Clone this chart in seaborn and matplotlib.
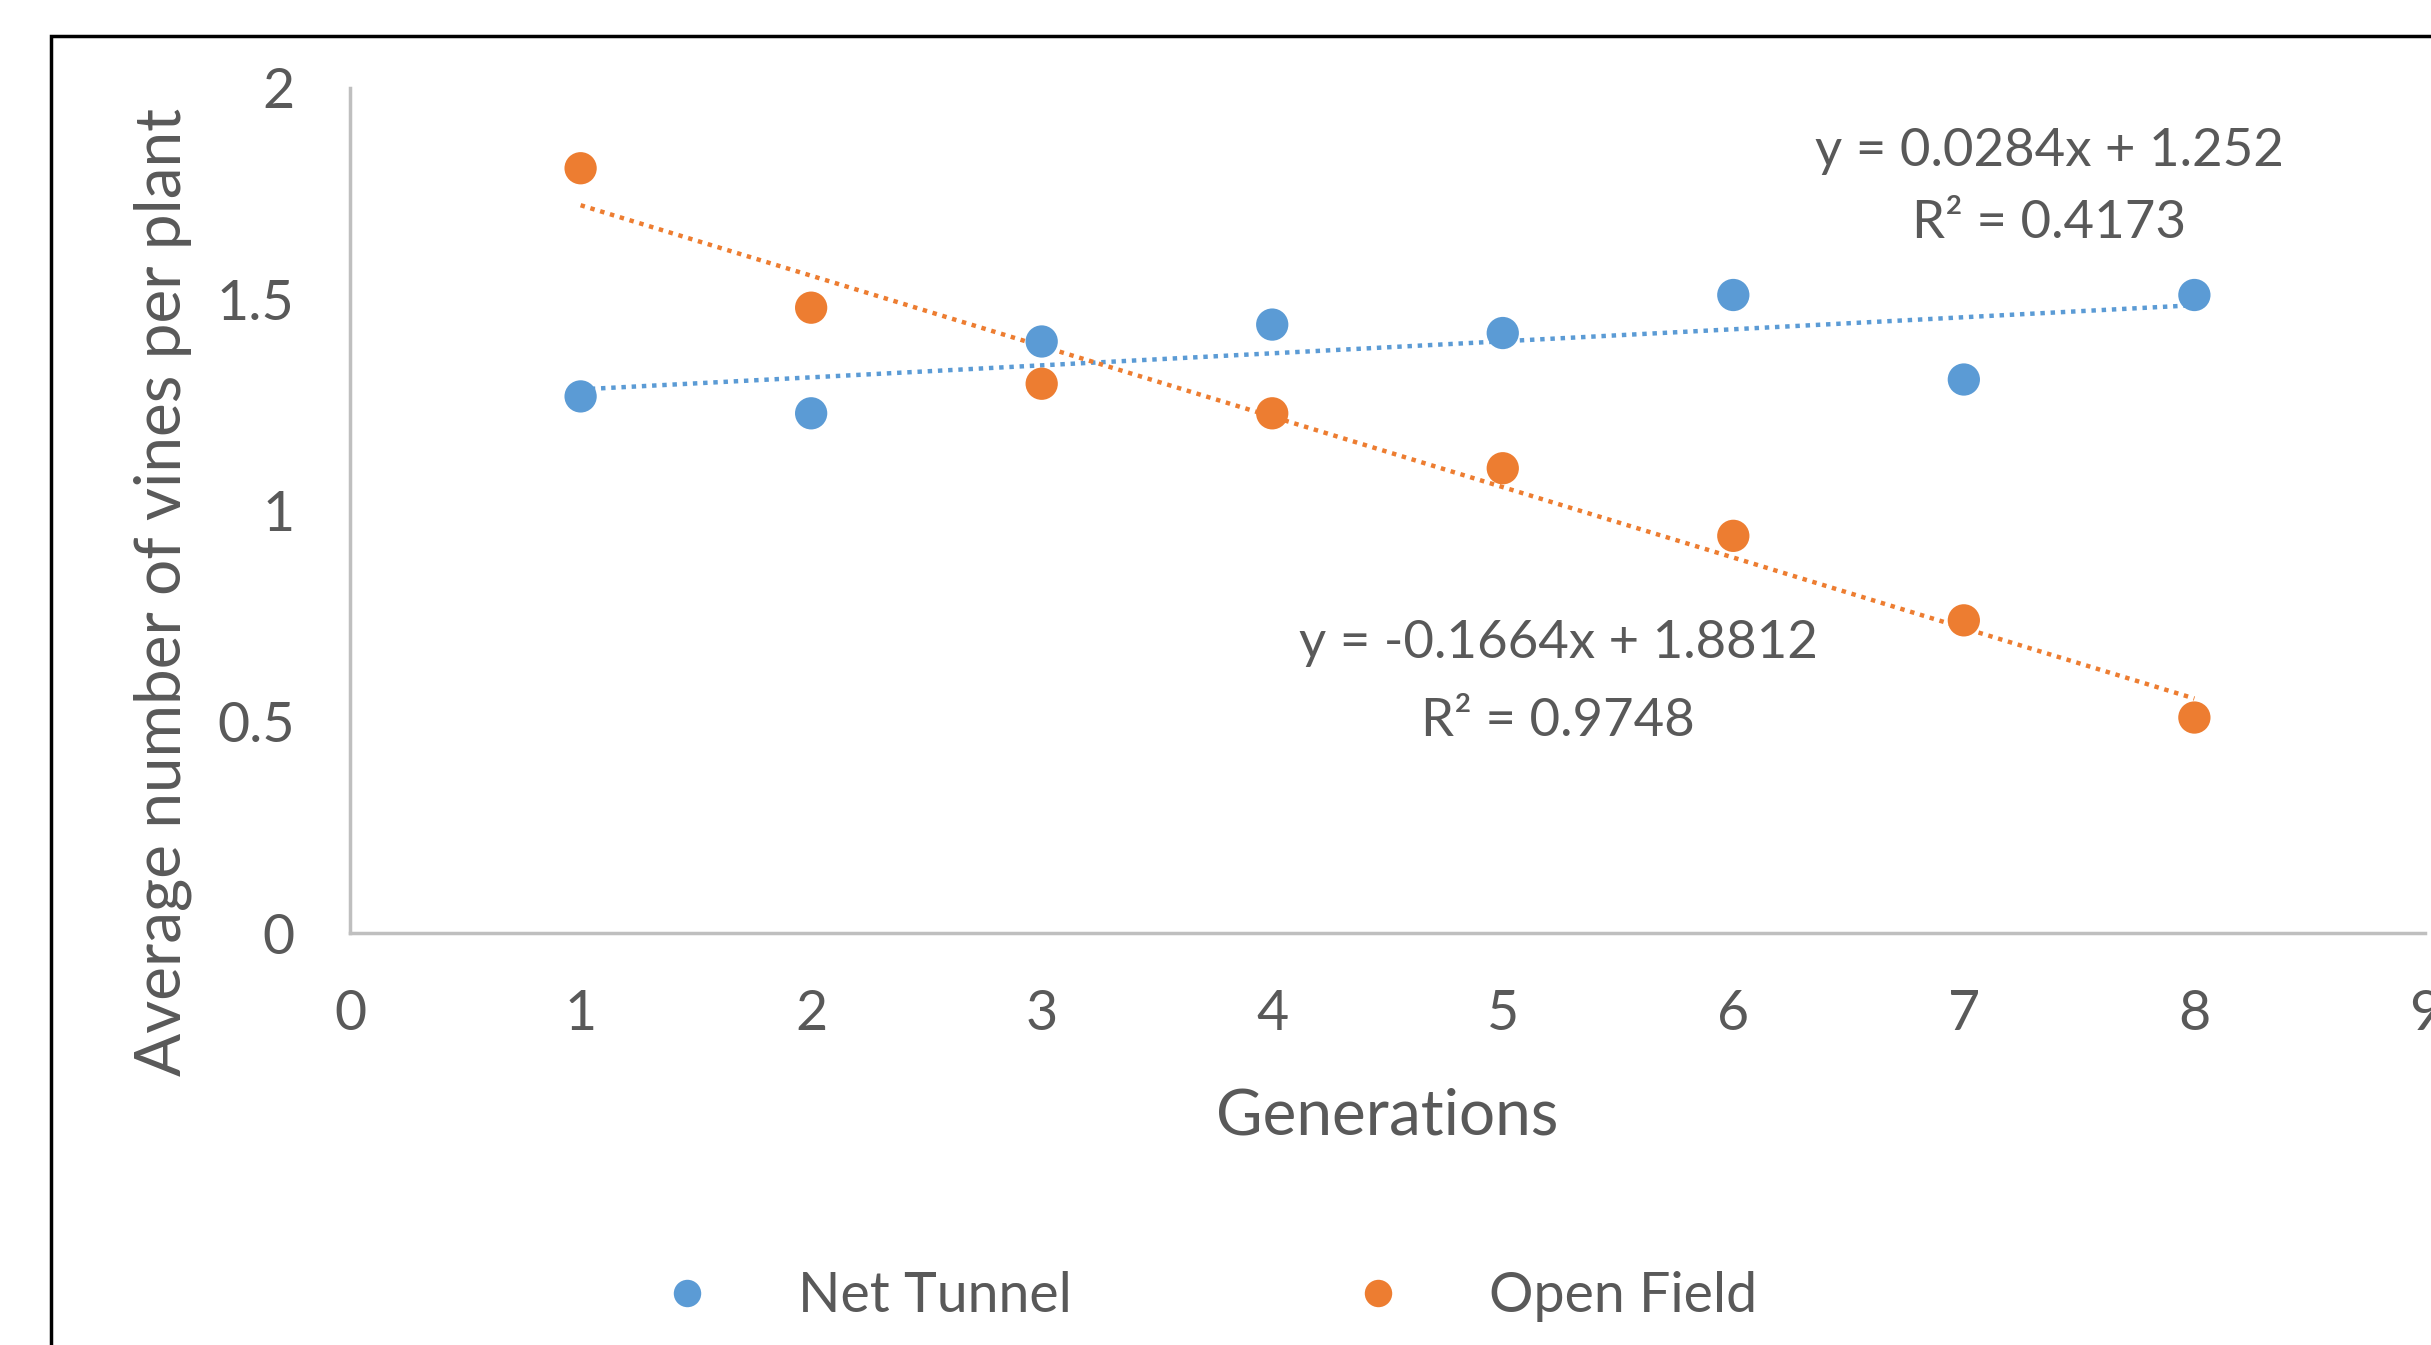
import pandas as pd
import seaborn as sns
import matplotlib.pyplot as plt
from matplotlib.patches import Rectangle

generations = [1, 2, 3, 4, 5, 6, 7, 8]
net_tunnel = [1.27, 1.23, 1.40, 1.44, 1.42, 1.51, 1.31, 1.51]
open_field = [1.81, 1.48, 1.30, 1.23, 1.10, 0.94, 0.74, 0.51]
series_names = ["Net Tunnel", "Open Field"]
colors = {"Net Tunnel": "#5B9BD5", "Open Field": "#ED7D31"}

eq_net = ["y = 0.0284x + 1.252", "R² = 0.4173"]
eq_open = ["y = -0.1664x + 1.8812", "R² = 0.9748"]

sns.set_theme(style="white")
plt.rcParams["font.family"] = ["Lato", "DejaVu Sans"]
GREY = "#595959"

df = pd.DataFrame({
    "Generations": generations * 2,
    "value": net_tunnel + open_field,
    "series": [series_names[0]] * 8 + [series_names[1]] * 8,
})

fig = plt.figure(figsize=(24.31, 13.45), dpi=100)
ax = fig.add_axes([0.144, 0.3063, 0.8535, 0.6283])

for name in series_names:
    sns.regplot(data=df[df.series == name], x="Generations", y="value", ax=ax,
                scatter=False, ci=None, color=colors[name],
                line_kws={"linestyle": (0, (1, 1.3)), "linewidth": 3.2})

sns.scatterplot(data=df, x="Generations", y="value", hue="series", palette=colors,
                s=540, edgecolor="none", ax=ax, zorder=3)

ax.set_xlim(0, 9)
ax.set_ylim(0, 2)
ax.set_xticks(range(0, 10))
ax.set_yticks([0, 0.5, 1, 1.5, 2])
ax.set_yticklabels(["0", "0.5", "1", "1.5", "2"])
ax.tick_params(axis="both", length=0, labelsize=40, labelcolor=GREY)
ax.tick_params(axis="y", pad=40)
ax.tick_params(axis="x", pad=40)

for s in ["top", "right"]:
    ax.spines[s].set_visible(False)
for s in ["left", "bottom"]:
    ax.spines[s].set_color("#BFBFBF")
    ax.spines[s].set_linewidth(2.5)

ax.set_xlabel("Generations", fontsize=46, color=GREY)
ax.set_ylabel("Average number of vines per plant", fontsize=46, color=GREY)
ax.xaxis.set_label_coords(0.5, -0.183)
ax.yaxis.set_label_coords(-0.076, 0.404)

ax.text(7.37, 1.85, eq_net[0], ha="center", va="center", fontsize=38, color=GREY)
ax.text(7.37, 1.68, eq_net[1], ha="center", va="center", fontsize=38, color=GREY)
ax.text(5.24, 0.685, eq_open[0], ha="center", va="center", fontsize=38, color=GREY)
ax.text(5.24, 0.50, eq_open[1], ha="center", va="center", fontsize=38, color=GREY)

leg = ax.legend(loc="center", bbox_to_anchor=(0.497, 0.036), bbox_transform=fig.transFigure,
                ncol=2, frameon=False, fontsize=40, handlelength=1.0,
                handletextpad=1.5, columnspacing=5.0, markerscale=0.85)
for t in leg.get_texts():
    t.set_color(GREY)

# outer chart border (cut off at right and bottom like the source)
fig.patches.append(Rectangle((51 / 2431, -0.5), 2.0, 0.5 + 1 - 36 / 1345,
                             transform=fig.transFigure, fill=False,
                             edgecolor="black", linewidth=2.5))

fig.savefig("out.png", dpi=100)
